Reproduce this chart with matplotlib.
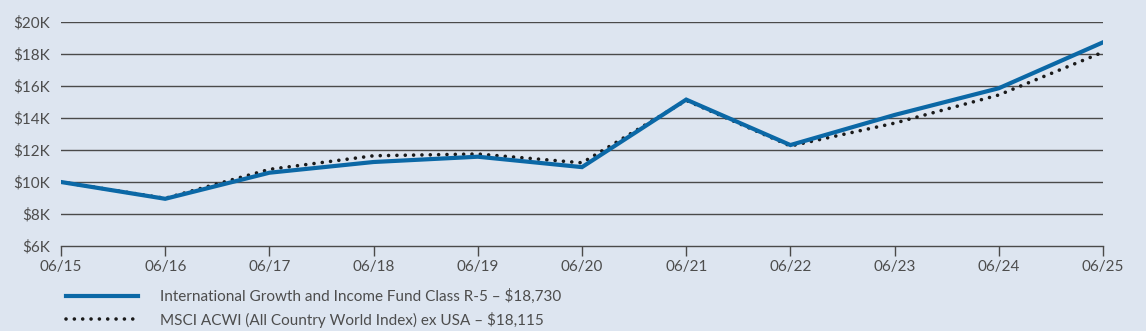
import matplotlib
matplotlib.use("Agg")
import matplotlib.pyplot as plt
from matplotlib.ticker import FuncFormatter

plt.rcParams['font.family'] = ['Lato', 'DejaVu Sans']

dates = ["06/15", "06/16", "06/17", "06/18", "06/19", "06/20", "06/21", "06/22", "06/23", "06/24", "06/25"]
fund = [10000, 8950, 10580, 11250, 11580, 10930, 15150, 12310, 14190, 15860, 18730]
index = [10000, 8980, 10790, 11640, 11750, 11200, 15100, 12250, 13680, 15440, 18115]
fund_label = "International Growth and Income Fund Class R-5 – $18,730"
index_label = "MSCI ACWI (All Country World Index) ex USA – $18,115"
yticks = [6000, 8000, 10000, 12000, 14000, 16000, 18000, 20000]

bg = "#dde5f0"
text_c = "#4d4d4d"
grid_c = "#4a4a4a"

fig = plt.figure(figsize=(11.46, 3.31), dpi=100, facecolor=bg)
ax = fig.add_axes([61/1146, 1-246/331, (1103-61)/1146, (246-22)/331])
ax.set_facecolor(bg)

x = list(range(len(dates)))
ax.plot(x, index, color="#1a1a1a", lw=2.6, linestyle=(0, (0.01, 2.3)),
        dash_capstyle='round', label=index_label, zorder=3)
ax.plot(x, fund, color="#0b68a6", lw=3.0, label=fund_label, zorder=4,
        solid_joinstyle='miter')

ax.set_xlim(0, len(dates) - 1)
ax.set_ylim(6000, 20000)
ax.set_yticks(yticks)
ax.yaxis.set_major_formatter(FuncFormatter(lambda v, p: f"${int(v/1000)}K"))
ax.set_xticks(x)
ax.set_xticklabels(dates)

for y in yticks[1:]:
    ax.axhline(y, color=grid_c, lw=1.0, zorder=1)

for s in ["top", "right", "left"]:
    ax.spines[s].set_visible(False)
ax.spines["bottom"].set_color(grid_c)
ax.spines["bottom"].set_linewidth(1.0)

ax.tick_params(axis='y', length=0, pad=8, labelsize=11, labelcolor=text_c)
ax.tick_params(axis='x', length=7, width=1.0, color=grid_c, direction='out',
               pad=3, labelsize=11, labelcolor=text_c)

h, l = ax.get_legend_handles_labels()
leg = fig.legend([h[1], h[0]], [l[1], l[0]], loc='upper left',
                 bbox_to_anchor=(66/1146, 1-289/331), frameon=False,
                 fontsize=11, handlelength=4.7, handletextpad=1.45,
                 labelspacing=0.5, borderpad=0, borderaxespad=0)
for t in leg.get_texts():
    t.set_color(text_c)

fig.savefig("out.png", dpi=100, facecolor=bg)
